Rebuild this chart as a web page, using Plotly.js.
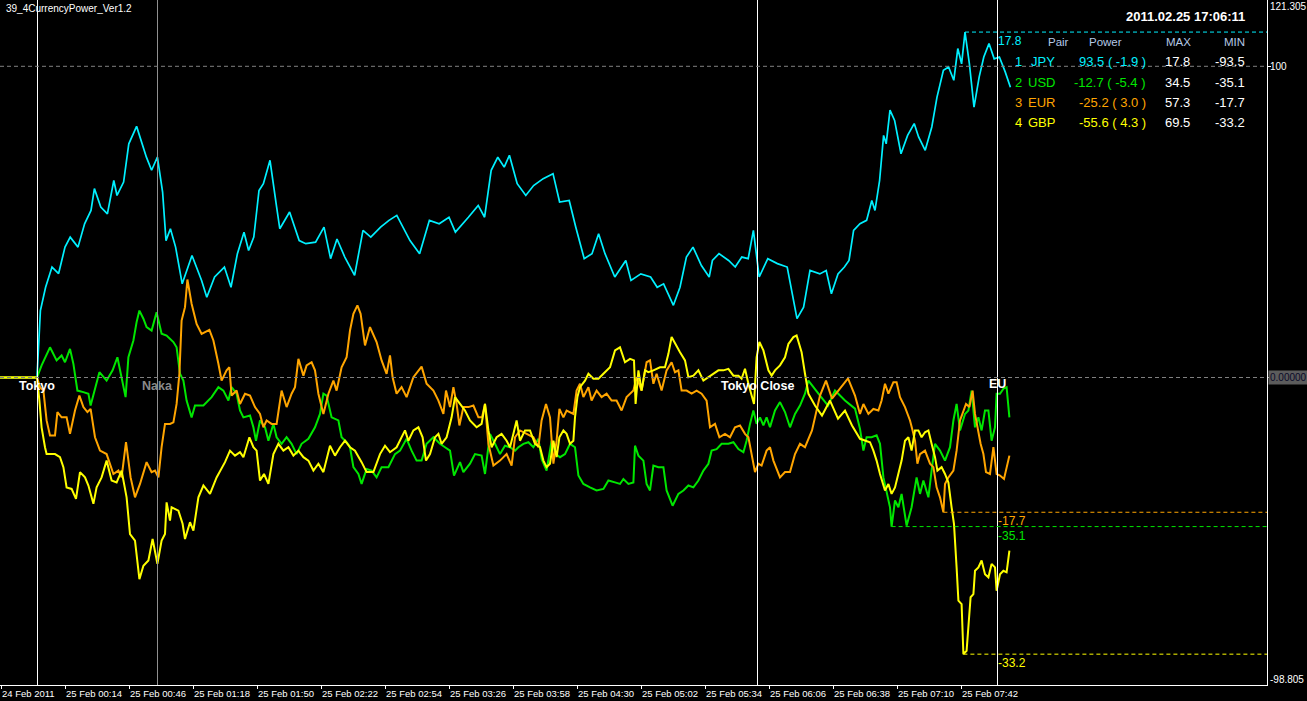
<!DOCTYPE html>
<html>
<head>
<meta charset="utf-8">
<script src="https://cdn.plot.ly/plotly-3.0.1.min.js"></script>
<style>
  html, body { margin: 0; padding: 0; background: #000; }
  #chart { width: 1307px; height: 701px; }
</style>
</head>
<body>
<div id="chart"></div>
<script>
// minutes after Tokyo open (00:00 server time) -> currency power
const jpyPts = [[-18.5,0],[0,0],[1.7,21.5],[4.3,29],[7.5,35.5],[10.8,33.4],[14,41.9],[16.6,45.1],[20.5,41.9],[23.8,49.4],[27,53.7],[28.7,60.7],[31.9,54.8],[35.2,52.6],[38.4,63.3],[40,58.5],[43.3,62.8],[45.9,75.1],[49.8,80.7],[51.4,77.3],[54.7,70.8],[57.3,66.6],[60.2,70.8],[62.8,59.6],[64.5,44],[66.7,47.8],[69.3,41.9],[72.6,30.1],[74.2,33.3],[77.5,39.2],[82.3,31.2],[84.9,25.8],[88.8,32.3],[93.7,35.5],[97,29],[100.2,39.8],[103.5,46.7],[105.8,40.8],[108.4,45.1],[111,60.1],[113.2,62.3],[116.5,69.8],[119.8,54.8],[121.4,47.8],[126.3,53.2],[131.1,44],[134.4,43],[139.3,43.5],[143.5,48.3],[146.8,38.2],[150,44.5],[153.9,38.7],[158.8,32.8],[163,47.3],[166.9,45.1],[171.8,48.3],[176,50.5],[179.9,52.1],[186.5,44],[191.3,39.8],[196.2,50.5],[201.1,49.4],[206,51.5],[209.2,46.7],[215.7,51.5],[220.6,55.3],[223.8,51.5],[227.1,66.6],[230.4,70.8],[233.6,67.6],[236.2,71.4],[240.1,62.3],[244.4,58.5],[248.3,61.7],[253.1,63.9],[258,65.5],[261.3,56.4],[266.1,56.9],[269.4,48.3],[273.6,38.2],[277.5,39.8],[280.8,46.2],[284,39.8],[288.9,32.3],[294.4,37.6],[297,31.2],[301.9,33.3],[306.8,32.3],[310.1,29],[313.3,30.1],[318.2,23.2],[321.5,29],[324.7,38.7],[328,41.9],[332.2,36],[336.1,32.3],[337.7,37.6],[341,39.8],[345.8,37.6],[349.1,35.5],[352.4,38.7],[355.6,38.2],[358.2,47.3],[361.1,32.3],[365.4,38.2],[370.2,36.6],[375.1,35.5],[377.7,26.9],[380,18.9],[383.3,22.6],[386.5,34.4],[391.4,33.3],[394.6,34.4],[397.2,26.9],[400.5,33.3],[403.7,35.5],[406,37.6],[408.3,47.3],[411.5,49.4],[414.8,50.5],[417.4,56.9],[419,53.7],[421.3,63.3],[423.3,77.8],[424.6,75.1],[426.5,85.9],[428.8,82.6],[432,71.9],[435.3,77.8],[438.6,81.6],[440.8,77.3],[444.1,73],[447.4,80.5],[450,90.1],[453.2,98.7],[455.8,99.8],[458.4,95.5],[460.4,105.7],[462.3,100.8],[464,111],[466.2,100.8],[468.5,86.9],[471.1,96.6],[473.4,103],[476,107.3],[478.6,102.4],[481.2,103],[484.1,98.2],[486.7,93.3]];

const usdPts = [[-18.5,0],[0,0],[2.3,3.9],[6.5,9.7],[9.8,5.5],[12.3,7.1],[14,4.9],[16.5,9.2],[18.2,4.4],[20.2,-4.2],[23.2,-4.7],[25.7,-5.2],[26.8,-9],[29,-3.6],[31.2,1.7],[34.8,-1],[37.8,2.3],[40.2,6.5],[42.3,0.1],[44.3,-6.3],[45.7,6.5],[48.2,11.9],[49.8,17.8],[51.2,21.5],[53.2,18.9],[54.8,16.2],[57.3,15.1],[59.8,21],[62.3,14.1],[64.8,13.5],[68.2,11.4],[69.8,9.7],[71.5,1.2],[73.2,-1],[74.8,-7.4],[77.3,-12.8],[79,-9],[83.2,-9],[87.3,-6.3],[90.7,-3.1],[93.2,-4.2],[95.7,-7.4],[97.3,-3.1],[99.8,-5.2],[101.5,-10.6],[103.2,-12.8],[106.5,-12.2],[108.2,-16],[109.5,-20.3],[111.5,-13.8],[114,-16],[115.7,-20.3],[118.2,-14.9],[119.8,-19.2],[122.3,-21.3],[124.8,-19.2],[127.3,-21.3],[129.8,-24.6],[132.3,-21.3],[135.7,-19.7],[139,-16],[141.5,-11.7],[143.2,-5.2],[144.8,-5.8],[147.3,-12.8],[150.7,-13.8],[152.3,-19.2],[154.8,-20.8],[156.5,-22.4],[158.2,-28.8],[160.7,-31],[162.3,-34.2],[164.8,-29.4],[167.3,-29.9],[169.8,-32.1],[172.3,-28.8],[175.7,-28.8],[179,-24.6],[181.5,-23.5],[184.8,-19.7],[187.3,-23.5],[189.8,-26.7],[192.3,-26.7],[194.8,-21.3],[198.2,-19.2],[201.5,-21.3],[204,-22.4],[206.5,-23.5],[208.5,-31.5],[211.5,-27.2],[213.2,-30.4],[216.5,-27.7],[219,-24.6],[222.3,-25.1],[224,-31],[226.5,-18.1],[229,-21.3],[231.5,-24.6],[234,-21.9],[236.5,-22.4],[239,-23.5],[240.7,-22.4],[243.2,-21.3],[245.7,-20.8],[248.2,-22.4],[250.7,-19.7],[252.3,-26.2],[254.8,-29.9],[257.3,-20.3],[259.5,-24.6],[261.5,-25.6],[264,-24.6],[266.5,-21.3],[269,-22.4],[270.7,-31.5],[273.2,-34.2],[276.5,-35.3],[279.8,-36.3],[283.2,-35.8],[285.7,-33.1],[289,-33.7],[291.5,-34.2],[293.2,-32.6],[295.7,-34.2],[298.2,-33.7],[299,-21.9],[300.7,-25.1],[303.2,-26.7],[304.8,-34.2],[306.5,-36.3],[308.2,-28.3],[310.7,-28.8],[313.2,-28.8],[314.8,-36.3],[317.8,-41.2],[320.7,-37.4],[323.2,-36.3],[325.7,-34.7],[328.2,-35.3],[330.7,-33.1],[333.2,-29.9],[335.7,-27.7],[337.3,-23.5],[339.8,-23],[342.3,-21.3],[345.7,-21.3],[348.2,-20.8],[350.7,-23],[353.2,-24],[354.8,-20.3],[356.5,-14.9],[358.2,-10.6],[359.8,-14.9],[361.5,-12.8],[363.2,-15.4],[364.8,-12.8],[366.5,-16],[369,-10.6],[371.5,-7.9],[374,-11.1],[376.5,-16],[379,-11.7],[381.5,-9],[384,-5.2],[385.7,-1],[387.5,-2.6],[391.5,-5.8],[395.5,-9],[399,-4.2],[404,-7.4],[409,-10],[411.5,-16.5],[413.2,-23.5],[414.8,-19.2],[417.3,-19.2],[419.8,-18.6],[421.5,-21.3],[423.2,-32.1],[424.8,-36.3],[426.5,-41.7],[427.3,-47.9],[429,-39.5],[430.7,-41.7],[432.3,-37.4],[434.8,-47.6],[437.3,-41.7],[439.8,-32.1],[441.5,-37.4],[443.2,-33.1],[445.7,-38.5],[447.3,-29.9],[449,-21.3],[451.5,-23.5],[454,-26.7],[456.5,-22.4],[458.2,-13.8],[459.8,-8.5],[461.5,-17],[464,-11.7],[465.7,-10.6],[467.3,-4.2],[469,-16],[470.7,-12.8],[472.3,-17],[474,-10.6],[475.7,-10.6],[477.3,-20.3],[479,-16],[479.8,-5.2],[481.5,-5.2],[483.2,-3.6],[484.8,-3.1],[486.2,-12.8]];

const eurPts = [[-18.5,0],[0,0],[1.5,-3.1],[3.2,-4.2],[4.8,-13.8],[6.5,-18.6],[9,-18.6],[10.2,-11.1],[12.3,-12.8],[14.8,-12.8],[16.5,-18.1],[19,-10.6],[21.2,-5.8],[23.2,-9.5],[25.2,-11.1],[26.8,-10.1],[29,-19.2],[31.5,-23.5],[34.8,-24.6],[38.2,-31],[40.7,-29.9],[42.3,-32.1],[44.5,-20.8],[46.8,-32.1],[49,-38.5],[51.5,-34.2],[54.8,-27.2],[57.3,-30.4],[59,-29.9],[60.7,-32.1],[62.3,-22.4],[64,-14.9],[66.5,-14.9],[68.2,-14.4],[69.8,-8.5],[71.2,1.2],[72.3,18.3],[74,22.6],[75.2,31.5],[77.3,23.7],[79.8,17.2],[82.3,14],[86.2,15.3],[88.2,11.9],[90.7,4.4],[92.3,-1],[94.8,2.3],[96.2,3.3],[97.3,-5.8],[99.8,-4.2],[101.5,-8.5],[104,-5.2],[106.5,-5.8],[109,-9.5],[111.5,-11.7],[113.2,-16],[114.8,-13.8],[117.3,-14.9],[119.8,-14.9],[122.3,-4.2],[124.8,-9.5],[127.3,-5.2],[129,-3.1],[130.7,6],[133.2,0.6],[134.8,3.9],[137.3,4.9],[139,2.3],[140.7,-5.2],[143.2,-11.7],[145.7,-5.2],[148.2,-1],[149.8,-4.2],[152.3,3.3],[154.8,6.5],[156.5,15.1],[158.2,20.5],[160.2,23.2],[161.8,20.5],[164,10.3],[166.5,16.2],[169.8,11.4],[172.3,5.5],[174.8,1.2],[176.5,7.1],[177.8,0.1],[179.8,-5.2],[182.3,-3.1],[184.8,-6.3],[188.2,0.1],[192.3,3.5],[194.8,-2],[198.2,-4.2],[200.7,-7.4],[203.2,-11.7],[204.5,-4.2],[206.5,-9.5],[208.2,-3.1],[209.8,-8.5],[211.2,-15.4],[213.2,-9.5],[215.7,-9.5],[218.2,-9],[220.7,-12.8],[222.5,-12.8],[224,-8.5],[225.7,-21.3],[228.2,-28.3],[231.5,-26.7],[234.8,-24.6],[237.3,-28.3],[239,-19.2],[241.5,-17],[244.8,-18.1],[248.2,-19.2],[250.7,-22.4],[252.3,-13.8],[254.5,-8.5],[256.5,-12.8],[258.2,-27.7],[259.8,-20.3],[261.2,-10.1],[263.2,-12.8],[264.8,-10.6],[268.2,-11.7],[269.8,-4.2],[271.5,-2],[273.2,-6.3],[275.7,-3.1],[277.3,-7.4],[279.8,-4.2],[282.3,-6.3],[284.8,-5.2],[287.3,-7.4],[289.8,-7.4],[292.3,-10.6],[294.8,-6.3],[298.2,-4.2],[299.8,0.1],[302.3,-4.2],[304.8,4.9],[306.5,5.5],[308.2,-2],[309.8,1.2],[312.3,-4.2],[314.8,2.3],[317.3,4.9],[319,1.7],[320.7,2.3],[322.3,-4.2],[324.8,-4.2],[327.3,-5.2],[329.8,-4.2],[332.3,-5.2],[334.8,-7.4],[336.5,-16],[339,-14.9],[341.2,-19.2],[344,-18.1],[346.5,-19.2],[349,-16],[351.5,-15.4],[354,-18.1],[355.7,-19.2],[357.3,-24.6],[359,-30.4],[360.7,-27.7],[362.3,-28.3],[364.8,-23.5],[366.5,-22.4],[368.2,-26.7],[371.5,-32.1],[374,-30.4],[376.5,-30.4],[379,-24.6],[381.5,-21.3],[384,-22.4],[385.7,-19.7],[387.5,-17],[391.5,-5.8],[394.5,-1],[397.5,-6.8],[401.5,-3.5],[405.5,-0.3],[409,-5.8],[411.5,-11.7],[413.2,-8.5],[415.7,-11.7],[418.2,-10.1],[420.7,-10.6],[422.3,-7.4],[424,-2],[425.7,-5.2],[428.2,-1.5],[429.8,-1.5],[431.5,-6.3],[434,-9.5],[436.5,-13.8],[437.8,-17],[439,-20.3],[440.2,-27.7],[441.5,-24.6],[444,-23.5],[446.5,-27.7],[448.2,-28.8],[449.8,-35.3],[451.5,-38.5],[453.2,-43.3],[454,-34.2],[455.7,-32.1],[458.2,-29.9],[459.8,-23.5],[461.5,-13.8],[463.2,-10.6],[464.5,-8.5],[466.2,-9.5],[467.8,-4.2],[469,-11.7],[470.7,-18.1],[471.8,-21.3],[473.2,-24.6],[474.5,-30.4],[476.5,-31],[478.2,-22.4],[479.8,-31],[481.5,-31.5],[483.5,-32.6],[484.8,-28.8],[486.2,-25.1]];

const gbpPts = [[-18.5,0],[0,0],[1.2,-7.4],[2.3,-16],[4,-22.4],[4.8,-24.6],[9,-24.6],[11.5,-25.6],[13.2,-28.8],[14.8,-35.3],[17.3,-35.8],[19.5,-39],[21.5,-30.4],[24,-32.1],[25.7,-34.7],[28.2,-40.6],[29.8,-35.3],[32.3,-32.1],[34.8,-26.7],[37.3,-33.1],[39.8,-33.7],[42.3,-29.9],[44.8,-38.5],[46.5,-50.3],[49,-52.4],[51.2,-64.8],[53.2,-60.5],[55.7,-58.8],[57.8,-51.9],[60.2,-59.9],[62.3,-52.4],[64,-50.3],[64.8,-40.1],[66.5,-46],[67.3,-41.7],[70.7,-42.8],[72.8,-47],[74,-51.9],[76.5,-46.5],[78.2,-49.2],[80.7,-38.5],[83.2,-34.7],[86.5,-37.4],[89.8,-32.1],[94,-27.2],[96.5,-23.5],[99,-25.1],[101.5,-24],[103.2,-25.6],[106.2,-19.2],[108.2,-22.4],[109.8,-23.5],[111.5,-33.1],[113.5,-31],[115.7,-34.2],[118.2,-24.6],[120.7,-21.3],[123.2,-23.5],[125.7,-22.4],[128.2,-25.1],[130.7,-23.5],[133.2,-25.6],[135.7,-26.7],[138.2,-29.9],[140.7,-27.7],[143.2,-30.4],[146.5,-21.9],[149,-25.1],[151.5,-22.4],[154,-20.3],[156.5,-22.4],[159,-23.5],[162.3,-27.2],[164.8,-30.4],[168.2,-30.4],[171.5,-24.6],[174,-21.9],[176.5,-24],[179.8,-22.4],[184,-17],[185.7,-20.3],[188.2,-17],[190.7,-16],[192.8,-19.2],[194.5,-26.7],[196.5,-24.6],[199,-19.2],[200.7,-18.1],[202.3,-21.3],[204.8,-19.2],[207.3,-12.8],[209,-6.3],[211.5,-8.5],[214,-10.6],[216.5,-13.8],[219.8,-16],[222.3,-14.9],[224,-8.5],[225.7,-17],[227.3,-22.4],[229.8,-19.2],[232.3,-18.1],[234.8,-20.3],[236.5,-22.4],[238.2,-18.1],[239.8,-13.8],[241.5,-20.3],[244,-17],[246.5,-17],[249,-21.3],[251.5,-22.4],[253.2,-26.7],[254.8,-28.8],[256.5,-27.7],[258.2,-20.3],[259.8,-25.6],[261.2,-19.2],[263.2,-17],[264.8,-18.1],[266.5,-21.3],[268.2,-20.3],[269,-12.8],[270.2,-6.3],[271.5,-3.1],[274,-1],[275.7,1.2],[278.2,-0.4],[280.7,-0.4],[283.2,1.2],[286.5,3.3],[289,8.7],[291.5,9.7],[294,4.9],[296.5,6],[298.5,5.5],[299.3,-8.5],[300.7,2.3],[302.3,-4.2],[304,2.3],[305.7,1.7],[308.2,2.3],[311.5,3.3],[314,3.3],[315.7,7.6],[317.3,13],[319.5,10.3],[321.5,8.1],[324,5.5],[325.7,0.1],[328.2,0.6],[330.7,2.3],[333.2,-1],[335.7,0.1],[338.2,1.2],[340.7,2.3],[343.2,2.3],[345.7,2.8],[348.2,0.6],[350.7,0.6],[352.3,-0.4],[354,2.8],[355.7,-2],[357.3,-6.3],[358.5,-8.5],[359.8,6.5],[361.2,11.4],[363.2,8.7],[365.7,2.3],[367.3,0.6],[369,2.3],[371.5,3.9],[374,6.5],[375.7,10.8],[378.2,13],[379.8,13.5],[382.3,8.1],[384,1.2],[385.7,-5.2],[389,-9],[392.5,-12.2],[396.5,-7.4],[400.5,-13.2],[404,-10.6],[407.5,-15.4],[411.5,-19.7],[414,-20.3],[416.5,-20.8],[418.2,-23.5],[419.8,-26.7],[421.5,-31],[424,-36.3],[425.7,-34.2],[427.3,-37.4],[429,-35.3],[430.7,-31],[432.3,-26.7],[434,-20.3],[435.7,-19.2],[437.3,-23.5],[439,-17],[440.7,-17],[442.3,-19.2],[444,-17.6],[445.7,-17],[447.3,-21.3],[449,-25.6],[450.2,-29.9],[452.3,-28.8],[454,-31],[455.7,-33.7],[457.3,-41.7],[458.5,-47.1],[459.8,-61],[460.7,-71.7],[462.3,-72.8],[463.2,-88.9],[464.8,-87.8],[465.7,-80.3],[466.8,-70.6],[468.2,-69.6],[469,-62.1],[470.7,-61],[472.3,-58.8],[474,-63.2],[475.7,-64.2],[477.3,-59.9],[479,-61],[479.8,-68.5],[481.5,-63.2],[483.2,-62.1],[484.8,-62.6],[486.2,-55.6]];

// table on the top right
const pairNames = ['JPY', 'USD', 'EUR', 'GBP'];
const powerNow  = [93.5, -12.7, -25.2, -55.6];
const powerChg  = [-1.9, -5.4, 3.0, 4.3];
const maxVals   = [17.8, 34.5, 57.3, 69.5];
const minVals   = [-93.5, -35.1, -17.7, -33.2];

// sessions (minutes after 00:00)
const sessionNames = ['Tokyo', 'Naka', 'Tokyo Close', 'EU'];
const sessionMins  = [0, 60, 360, 480];

// axes
const xTickMins   = [-18, 14, 46, 78, 110, 142, 174, 206, 238, 270, 302, 334, 366, 398, 430, 462];
const xTickLabels = ['24 Feb 2011', '25 Feb 00:14', '25 Feb 00:46', '25 Feb 01:18', '25 Feb 01:50', '25 Feb 02:22',
  '25 Feb 02:54', '25 Feb 03:26', '25 Feb 03:58', '25 Feb 04:30', '25 Feb 05:02', '25 Feb 05:34',
  '25 Feb 06:06', '25 Feb 06:38', '25 Feb 07:10', '25 Feb 07:42'];
const yMin = -98.805, yMax = 121.305;
const yLabelVals = [121.305, 100, 0, -98.805];
const yLabelText = ['121.305', '100', '0.00000', '-98.805'];

const COLORS = { JPY: '#00f0ff', USD: '#00e600', EUR: '#ffa500', GBP: '#ffff00' };
const FONT = 'Liberation Sans, Arial, sans-serif';
const X_END = 615;
const PW = 1267, PH = 685;   // plot area in pixels
const HALF_PX = 0.25;        // half a pixel in minutes, keeps 1px lines crisp

const seriesPts = { JPY: jpyPts, USD: usdPts, EUR: eurPts, GBP: gbpPts };

const traces = pairNames.map(name => ({
  x: seriesPts[name].map(p => p[0]),
  y: seriesPts[name].map(p => p[1]),
  type: 'scatter',
  mode: 'lines',
  line: { color: COLORS[name], width: name === 'JPY' ? 1.7 : 2 },
  hoverinfo: 'skip',
  showlegend: false,
}));

const px = v => v / PW;
const py = v => 1 - v / PH;
function txt(x, y, text, color, size, anchor, bold) {
  return {
    xref: 'paper', yref: 'paper', x: px(x), y: py(y), text: bold ? `<b>${text}</b>` : text,
    showarrow: false, xanchor: anchor, yanchor: 'middle',
    font: { family: FONT, size, color },
  };
}

const annotations = [];
const shapes = [];

// vertical session lines and labels
sessionNames.forEach((s, i) => {
  const col = s === 'Naka' ? '#909090' : '#ffffff';
  shapes.push({ type: 'line', xref: 'x', yref: 'paper', x0: sessionMins[i] + HALF_PX, x1: sessionMins[i] + HALF_PX,
    y0: 0, y1: 1, line: { color: col, width: 1 } });
  annotations.push({ xref: 'x', yref: 'y', x: sessionMins[i], y: 0, yshift: s === 'EU' ? -6 : -8,
    text: `<b>${s}</b>`, showarrow: false, xanchor: 'center', yanchor: 'middle',
    font: { family: FONT, size: 12.5, color: s === 'Naka' ? '#8a8a8a' : '#ffffff' } });
});

// level lines 100 and 0
[100, 0].forEach(v => shapes.push({ type: 'line', xref: 'paper', yref: 'y', x0: 0, x1: 1, y0: v, y1: v,
  line: { color: '#808080', width: 1, dash: '4px,3px' } }));

// extreme lines: max of JPY, min of the others
const extremes = [
  { name: 'JPY', fn: 'max', label: maxVals[0].toFixed(1) },
  { name: 'EUR', fn: 'min', label: minVals[2].toFixed(1) },
  { name: 'USD', fn: 'min', label: minVals[1].toFixed(1) },
  { name: 'GBP', fn: 'min', label: minVals[3].toFixed(1) },
];
extremes.forEach(e => {
  const pts = seriesPts[e.name];
  const best = pts.reduce((a, b) => (e.fn === 'max' ? (b[1] > a[1] ? b : a) : (b[1] < a[1] ? b : a)));
  shapes.push({ type: 'line', xref: 'x', yref: 'y', x0: best[0], x1: X_END, y0: best[1], y1: best[1],
    line: { color: COLORS[e.name], width: 1, dash: '4px,3px' } });
  annotations.push({ xref: 'x', yref: 'y', x: sessionMins[3], y: best[1], yshift: -9, xshift: -1,
    text: e.label, showarrow: false, xanchor: 'left', yanchor: 'middle',
    font: { family: FONT, size: 12, color: COLORS[e.name] } });
});

// right axis labels
yLabelVals.forEach((v, i) => {
  const isZero = v === 0;
  const shift = v === yMax ? -6 : (v === yMin ? 6 : 0);
  annotations.push({ xref: 'paper', yref: 'y', x: 1, y: v, xanchor: 'left', yanchor: 'middle',
    xshift: isZero ? 1 : 2, yshift: shift, text: yLabelText[i], showarrow: false,
    bgcolor: isZero ? '#5c5c5c' : 'rgba(0,0,0,0)', borderpad: isZero ? 1 : 0,
    font: { family: FONT, size: 10, color: isZero ? '#0a0a28' : '#ffffff' } });
});

// title and time stamp
annotations.push(txt(4, 8, '39_4CurrencyPower_Ver1.2', '#ffffff', 10, 'left', false));
annotations.push(txt(1247, 17, '2011.02.25 17:06:11', '#ffffff', 13, 'right', true));

// table header
const HEAD = '#b4c8e6';
annotations.push(txt(1058, 42, 'Pair', HEAD, 11.5, 'center', false));
annotations.push(txt(1105, 42, 'Power', HEAD, 11.5, 'center', false));
annotations.push(txt(1193, 42, 'MAX', HEAD, 11.5, 'right', false));
annotations.push(txt(1247, 42, 'MIN', HEAD, 11.5, 'right', false));

// table rows
pairNames.forEach((name, i) => {
  const y = 62 + i * 20.2;
  const c = COLORS[name];
  annotations.push(txt(1024, y, String(i + 1), c, 13, 'right', false));
  annotations.push(txt(1057, y, name, c, 13, 'right', false));
  annotations.push(txt(1148, y, `${powerNow[i].toFixed(1)} ( ${powerChg[i].toFixed(1)} )`, c, 13, 'right', false));
  annotations.push(txt(1192, y, maxVals[i].toFixed(1), '#ffffff', 13, 'right', false));
  annotations.push(txt(1247, y, minVals[i].toFixed(1), '#ffffff', 13, 'right', false));
});

const layout = {
  width: 1307, height: 701,
  margin: { l: 0, r: 40, t: 0, b: 16, pad: 0 },
  paper_bgcolor: '#000000',
  plot_bgcolor: '#000000',
  font: { family: FONT, color: '#ffffff', size: 10 },
  showlegend: false,
  hovermode: false,
  xaxis: {
    range: [-18.5, X_END], showgrid: false, zeroline: false,
    showline: true, linecolor: '#ffffff', linewidth: 1,
    tickmode: 'array', tickvals: xTickMins, ticktext: xTickLabels,
    ticks: 'outside', ticklen: 3, tickcolor: '#ffffff',
    tickangle: 0, automargin: false,
    ticklabelposition: 'outside right',
    tickfont: { family: FONT, size: 9.5, color: '#ffffff' },
  },
  yaxis: {
    range: [yMin, yMax], side: 'right', showgrid: false, zeroline: false,
    showline: true, linecolor: '#ffffff', linewidth: 1,
    showticklabels: false, ticks: 'outside', ticklen: 3, tickcolor: '#ffffff',
    tickmode: 'array', tickvals: [100, 0],
  },
  shapes,
  annotations,
};

Plotly.newPlot('chart', traces, layout, { displayModeBar: false, staticPlot: true });
</script>
</body>
</html>
